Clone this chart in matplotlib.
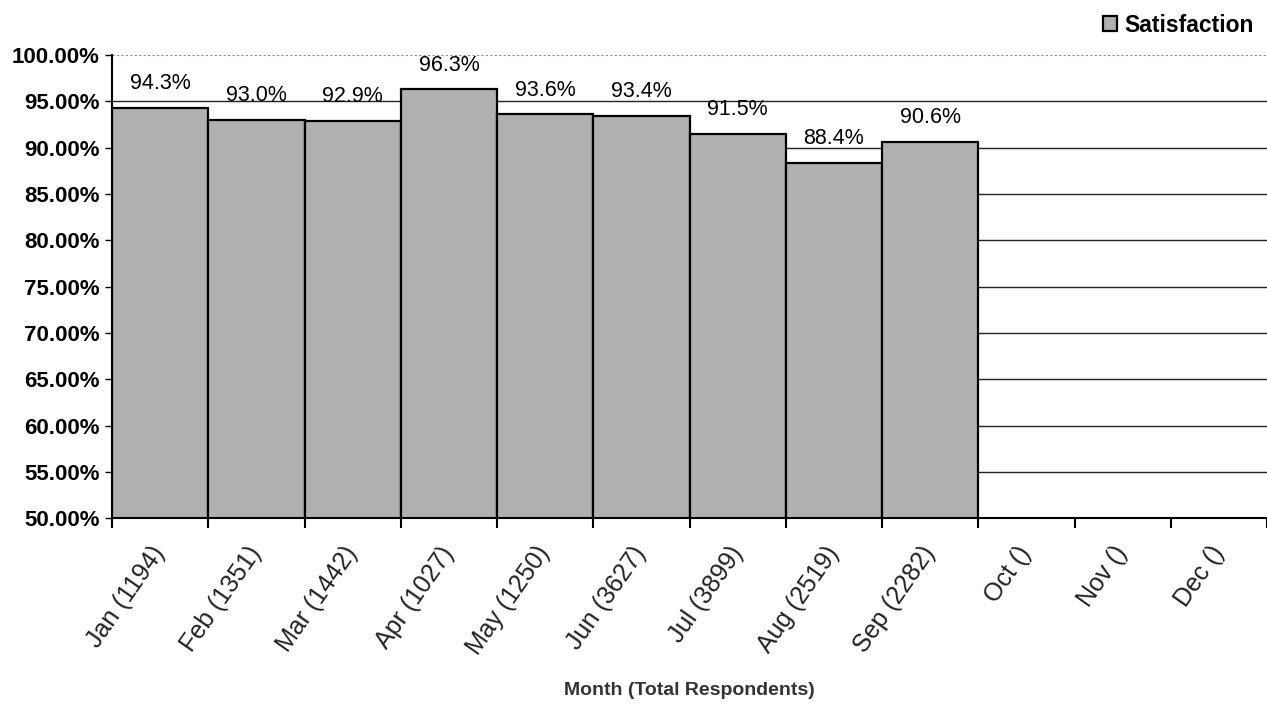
import matplotlib.pyplot as plt
import numpy as np

# data
months = ['Jan (1194)', 'Feb (1351)', 'Mar (1442)', 'Apr (1027)', 'May (1250)', 'Jun (3627)',
          'Jul (3899)', 'Aug (2519)', 'Sep (2282)', 'Oct ()', 'Nov ()', 'Dec ()']
satisfaction = [94.3, 93.0, 92.9, 96.3, 93.6, 93.4, 91.5, 88.4, 90.6]
y_ticks = [50, 55, 60, 65, 70, 75, 80, 85, 90, 95, 100]

plt.rcParams['font.family'] = ['Liberation Sans', 'DejaVu Sans']

fig = plt.figure(figsize=(12.67, 7.07), dpi=100)
ax = fig.add_axes([0.0884, 0.267, 0.9116, 0.655])

x = np.arange(len(months))
ax.set_xlim(-0.5, len(months) - 0.5)
ax.set_ylim(50, 100)

# grid lines
for t in y_ticks[1:-1]:
    ax.axhline(t, color='#222222', lw=1.0, zorder=1)
ax.axhline(100, color='#888888', lw=0.8, ls=(0, (2, 2)), zorder=1)

bars = ax.bar(x[:len(satisfaction)], satisfaction, width=1.0, bottom=0,
              color='#b0b0b0', edgecolor='black', linewidth=1.6, zorder=2,
              label='Satisfaction')

for xi, v in zip(x, satisfaction):
    ax.annotate(f'{v:.1f}%', (xi, v), xytext=(0, 10), textcoords='offset points',
                ha='center', va='bottom', fontsize=15.5)

ax.set_yticks(y_ticks)
ax.set_yticklabels([f'{t:.2f}%' for t in y_ticks], fontsize=16, fontweight='bold')
ax.tick_params(axis='y', length=5, width=1, direction='out', pad=4)

ax.set_xticks(x)
ax.set_xticklabels(months, rotation=55, ha='right', va='center', rotation_mode='anchor',
                   fontsize=18, color='#222222')
ax.tick_params(axis='x', length=0, pad=22)
ax.set_xticks(np.arange(-0.5, len(months), 1.0), minor=True)
ax.tick_params(axis='x', which='minor', length=7, width=1.5, direction='out')

for s in ['top', 'right']:
    ax.spines[s].set_visible(False)
ax.spines['left'].set_linewidth(1.5)
ax.spines['bottom'].set_linewidth(1.5)

fig.text(0.544, 0.024, 'Month (Total Respondents)', ha='center', va='center',
         fontsize=14, fontweight='bold', color='#333333')

leg = fig.legend(handles=[bars], loc='upper right', bbox_to_anchor=(1.0, 1.0),
                 frameon=False, prop={'weight': 'bold', 'size': 16.5},
                 handlelength=0.6, handleheight=0.6, handletextpad=0.3,
                 borderaxespad=0.2)

fig.savefig('out.png', dpi=100)
